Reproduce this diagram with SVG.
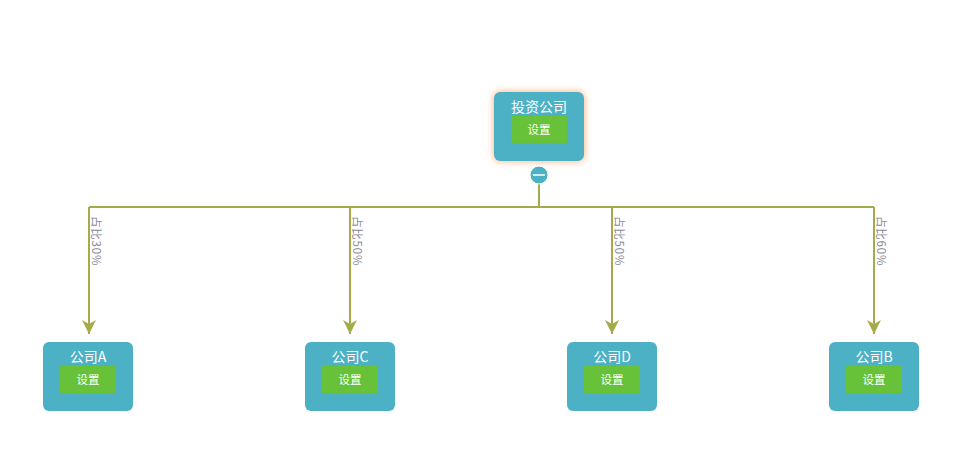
<svg xmlns="http://www.w3.org/2000/svg" width="975" height="465" viewBox="0 0 975 465">
<style>
.node{fill:#4db1c5}
.btn{fill:#67c23a}
.title{font-family:"Noto Sans CJK SC","Liberation Sans",sans-serif;font-size:14px;fill:#fff;text-anchor:middle}
.btxt{font-family:"Noto Sans CJK SC","Liberation Sans",sans-serif;font-size:11.5px;fill:#fff;text-anchor:middle}
.edge{fill:none;stroke:#a6ab4a;stroke-width:2}
.lbl{font-family:"Noto Sans CJK SC","Liberation Sans",sans-serif;font-size:11.5px;letter-spacing:0.8px;fill:#8a8896}
</style>
<defs>
<filter id="glow" x="-30%" y="-30%" width="160%" height="160%">
<feDropShadow dx="0" dy="0" stdDeviation="3.5" flood-color="#ff9b5a" flood-opacity="0.9"/>
</filter>
<marker id="arr" viewBox="0 0 16 16" refX="14" refY="8" markerWidth="16" markerHeight="16" markerUnits="userSpaceOnUse" orient="auto">
<path d="M0,1 L14,8 L0,15 L4,8 Z" fill="#a6ab4a"/>
</marker>
</defs>
<g id="connectors">
<path class="edge" d="M539,184 V207 M89,207 H874"/>
<path class="edge" d="M89,207 V334" marker-end="url(#arr)"/>
<path class="edge" d="M350,207 V334" marker-end="url(#arr)"/>
<path class="edge" d="M612,207 V334" marker-end="url(#arr)"/>
<path class="edge" d="M874,207 V334" marker-end="url(#arr)"/>
<text class="lbl" transform="translate(92,216) rotate(90)">占比30%</text>
<text class="lbl" transform="translate(353,216) rotate(90)">占比50%</text>
<text class="lbl" transform="translate(615,216) rotate(90)">占比50%</text>
<text class="lbl" transform="translate(877,216) rotate(90)">占比60%</text>
</g>
<g id="root">
<rect class="node" x="494" y="92" width="90" height="69" rx="6" filter="url(#glow)"/>
<text class="title" x="539" y="112">投资公司</text>
<rect class="btn" x="511" y="116" width="56" height="27" rx="1"/>
<text class="btxt" x="539" y="134">设置</text>
<circle cx="539" cy="175" r="9" fill="#4db1c5" stroke="#fff" stroke-width="1"/>
<line x1="533" y1="175" x2="545" y2="175" stroke="#fff" stroke-width="1.5"/>
</g>
<g id="nodeA">
<rect class="node" x="43" y="342" width="90" height="69" rx="6"/>
<text class="title" x="88" y="362">公司A</text>
<rect class="btn" x="60" y="366" width="56" height="27" rx="1"/>
<text class="btxt" x="88" y="384">设置</text>
</g>
<g id="nodeC">
<rect class="node" x="305" y="342" width="90" height="69" rx="6"/>
<text class="title" x="350" y="362">公司C</text>
<rect class="btn" x="322" y="366" width="56" height="27" rx="1"/>
<text class="btxt" x="350" y="384">设置</text>
</g>
<g id="nodeD">
<rect class="node" x="567" y="342" width="90" height="69" rx="6"/>
<text class="title" x="612" y="362">公司D</text>
<rect class="btn" x="584" y="366" width="56" height="27" rx="1"/>
<text class="btxt" x="612" y="384">设置</text>
</g>
<g id="nodeB">
<rect class="node" x="829" y="342" width="90" height="69" rx="6"/>
<text class="title" x="874" y="362">公司B</text>
<rect class="btn" x="846" y="366" width="56" height="27" rx="1"/>
<text class="btxt" x="874" y="384">设置</text>
</g>
</svg>
